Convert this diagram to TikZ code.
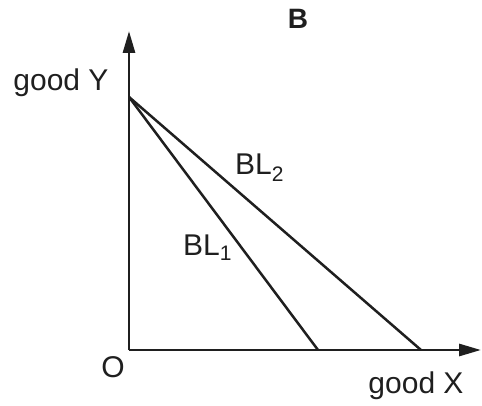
\documentclass[tikz,border=0pt]{standalone}
\usepackage{fontspec}
\setmainfont{Liberation Sans}
\usetikzlibrary{arrows.meta}

\begin{document}
\begin{tikzpicture}[
                x={(1pt,0pt)},
                y={(0pt,-1pt)},
                line cap=butt,
                line join=miter,
                axis/.style={line width=2.9pt, black!88, -{Triangle[length=22pt,width=12pt]}},
                budget/.style={line width=2.5pt, black!88},
                lab/.style={font=\fontsize{30}{34}\selectfont, text=black!88, inner sep=0pt}
            ]

            \useasboundingbox (0,0) rectangle (482,406);

            \coordinate (O) at (129,350);
            \coordinate (ytop) at (129,31);
            \coordinate (xend) at (481,350);
            \coordinate (yint) at (129,97);
            \coordinate (xone) at (318,350);
            \coordinate (xtwo) at (421,350);

            \draw[axis] (O) -- (ytop);
            \draw[axis] (O) -- (xend);

            \draw[budget] (yint) -- (xone);
            \draw[budget] (yint) -- (xtwo);

            \node[lab, anchor=base, font=\fontsize{28}{32}\selectfont\bfseries] (title) at (298,29) {B};
            \node[lab, anchor=base] (ylab) at (61,91) {good Y};
            \node[lab, anchor=base] (olab) at (113,377) {O};
            \node[lab, anchor=base] (xlab) at (416,393) {good X};
            \node[lab, anchor=base west] (bltwo) at (235,175) {BL\textsubscript{2}};
            \node[lab, anchor=base west] (blone) at (183,255) {BL\textsubscript{1}};

        \end{tikzpicture}
\end{document}
